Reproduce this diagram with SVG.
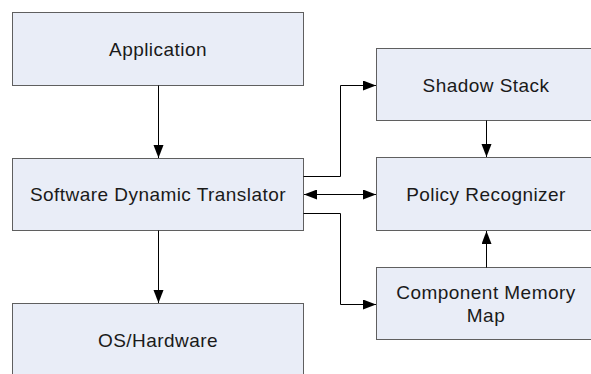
<svg xmlns="http://www.w3.org/2000/svg" width="591" height="374" viewBox="0 0 591 374">
  <style>
    .box { fill: #e9edf7; stroke: #5f5f5f; stroke-width: 1; }
    .label { font-family: "Liberation Sans", Arial, sans-serif; font-size: 19px; letter-spacing: 0.45px; fill: #1a1a1a; text-anchor: middle; }
    .wire { fill: none; stroke: #000; stroke-width: 1; }
  </style>
  <defs>
    <marker id="arrow" markerUnits="userSpaceOnUse" markerWidth="14" markerHeight="11" refX="13" refY="5" orient="auto">
      <path d="M0,0 L13,5 L0,10 z" fill="#000"/>
    </marker>
    <marker id="arrow-start" markerUnits="userSpaceOnUse" markerWidth="14" markerHeight="11" refX="0" refY="5" orient="auto">
      <path d="M13,0 L0,5 L13,10 z" fill="#000"/>
    </marker>
  </defs>

  <rect width="591" height="374" fill="#fff"/>

  <g id="application">
    <rect class="box" x="12.5" y="12.5" width="291" height="73"/>
    <text class="label" x="158" y="55.5">Application</text>
  </g>

  <g id="translator">
    <rect class="box" x="12.5" y="158.5" width="291" height="72"/>
    <text class="label" x="158" y="200.5">Software Dynamic Translator</text>
  </g>

  <g id="os-hardware">
    <rect class="box" x="12.5" y="303.5" width="291" height="80"/>
    <text class="label" x="158" y="346.5">OS/Hardware</text>
  </g>

  <g id="shadow-stack">
    <rect class="box" x="376.5" y="48.5" width="220" height="72"/>
    <text class="label" x="486" y="92">Shadow Stack</text>
  </g>

  <g id="policy-recognizer">
    <rect class="box" x="376.5" y="157.5" width="220" height="73"/>
    <text class="label" x="486" y="201">Policy Recognizer</text>
  </g>

  <g id="memory-map">
    <rect class="box" x="376.5" y="267.5" width="220" height="72"/>
    <text class="label" x="486" y="298.5">Component Memory</text>
    <text class="label" x="486" y="321.5">Map</text>
  </g>

  <g id="connectors">
    <path class="wire" d="M158.5,85.5 V158" marker-end="url(#arrow)"/>
    <path class="wire" d="M158.5,230.5 V303" marker-end="url(#arrow)"/>
    <path class="wire" d="M303.5,176.5 H340.5 V85.5 H376" marker-end="url(#arrow)"/>
    <path class="wire" d="M304,194.5 H376" marker-start="url(#arrow-start)" marker-end="url(#arrow)"/>
    <path class="wire" d="M303.5,213.5 H340.5 V304.5 H376" marker-end="url(#arrow)"/>
    <path class="wire" d="M486.5,120.5 V157" marker-end="url(#arrow)"/>
    <path class="wire" d="M486.5,267.5 V231" marker-end="url(#arrow)"/>
  </g>
</svg>
